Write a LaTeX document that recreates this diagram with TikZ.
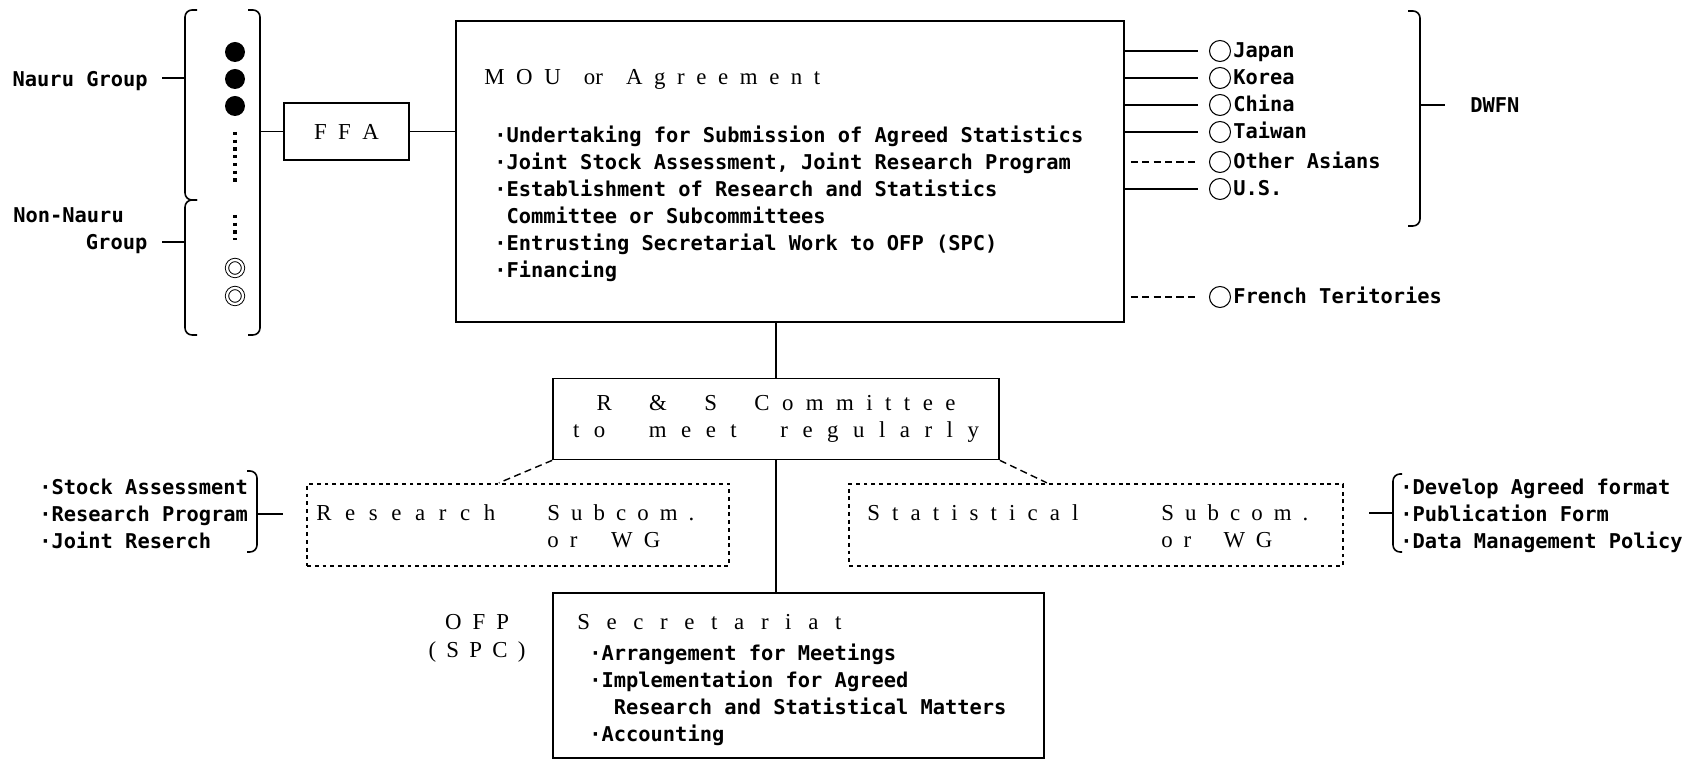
\documentclass[tikz,border=0pt]{standalone}
\usepackage{fontspec}
\setmainfont{Liberation Serif}
\newfontfamily\gothic{DejaVu Sans Mono}
\usetikzlibrary{calc}

% one pixel of the reference
\newdimen\pxu \pxu=0.02cm
% letter-spaced heading, stretched to a width given in pixels
\newcommand{\spreadto}[2]{{\spaceskip=0pt plus 1fil\relax\makebox[#1\pxu][s]{#2}}}
\newcommand{\gothicsz}{\fontsize{11.6}{15.4}\selectfont\gothic\bfseries}
\newcommand{\headsz}{\fontsize{13}{15.4}\selectfont\rmfamily}

\begin{document}
\begin{tikzpicture}[x=0.02cm, y=-0.02cm,
  box/.style={draw, line width=1pt, inner sep=0pt},
  sbox/.style={draw, line width=1.3pt, dash pattern=on 2.2pt off 2.2pt, inner sep=0pt},
  lbl/.style={font=\gothicsz, inner sep=0pt},
  head/.style={font=\headsz, inner sep=0pt},
  brk/.style={line width=0.9pt, rounded corners=4pt},
  link/.style={line width=0.8pt},
  dlink/.style={line width=0.8pt, dash pattern=on 4pt off 2.5pt},
  fdot/.style={circle, fill, inner sep=0pt, minimum size=0.4cm},
  ring/.style={circle, draw, double, line width=0.55pt, double distance=1.3pt,
               inner sep=0pt, minimum size=0.32cm},
  cdot/.style={circle, draw, line width=0.6pt, inner sep=0pt, minimum size=0.42cm},
  dotcol/.style={line width=1.8pt, dash pattern=on 1.8pt off 2.6pt}
]
\useasboundingbox (0,0) rectangle (1691,759);

% ----- member groups -----
\node[lbl, anchor=base east] (nauru) at (148,86.5) {Nauru Group};
\node[lbl, anchor=north west, text width=2.68cm, align=left] (nonnauru) at (13,207.5)
     {Non-Nauru\\\hspace*{\fill}Group};
\coordinate (nbrk) at (185,78);
\coordinate (nnbrk) at (185,242);
\draw[link] (nbrk) -- ([xshift=8pt]nauru.east |- nbrk);
\draw[link] (nnbrk) -- ([xshift=8pt]nonnauru.east |- nnbrk);
\draw[brk] (197,10) -- (185,10) -- (185,200) -- (197,200);
\draw[brk] (197,200) -- (185,200) -- (185,335) -- (197,335);
\draw[brk] (248,10) -- (260,10) -- (260,335) -- (248,335);
\foreach \y [count=\i] in {52,79,106} \node[fdot] (nd\i) at (235,\y) {};
\draw[dotcol] (235,132) -- (235,182);
\draw[dotcol] (235,215) -- (235,240);
\foreach \y [count=\i] in {268,296} \node[ring] (nn\i) at (235,\y) {};

% ----- FFA and MOU -----
\coordinate (rbrk) at (260,131.5);
\node[box, head, minimum width=2.5cm, minimum height=1.14cm] (ffa) at (346.5,131.5)
     {\spreadto{65}{F F A}};
\node[box, minimum width=13.36cm, minimum height=6.02cm] (mou) at (790,171.5) {};
\draw[link] (rbrk) -- (ffa.west);
\draw[link] (ffa.east) -- (ffa.east -| mou.west);
\node[head, anchor=base west] (moutitle) at (484,85)
     {\spreadto{336}{M O U\ \ or\ \ A g r e e m e n t}};
\node[lbl, anchor=north west, align=left] (moulist) at (494,125.5)
     {·Undertaking for Submission of Agreed Statistics\\
      ·Joint Stock Assessment, Joint Research Program\\
      ·Establishment of Research and Statistics\\
      \phantom{·}Committee or Subcommittees\\
      ·Entrusting Secretarial Work to OFP (SPC)\\
      ·Financing};

% ----- fishing nations -----
\foreach \y/\nm/\txt in {51/jp/Japan, 78/kr/Korea, 105/cn/China, 132/tw/Taiwan, 189/us/U.S.} {
  \node[cdot] (\nm) at (1220,\y) {};
  \node[lbl, anchor=base west] (\nm-t) at (1233,\y+6.5) {\txt};
  \draw[link, shorten >=6.5pt] (mou.east |- \nm) -- (\nm);
}
\foreach \y/\nm/\txt in {162/oa/Other Asians, 297/fr/French Teritories} {
  \node[cdot] (\nm) at (1220,\y) {};
  \node[lbl, anchor=base west] (\nm-t) at (1233,\y+6.5) {\txt};
  \draw[dlink, shorten <=3.4pt, shorten >=6.5pt] (mou.east |- \nm) -- (\nm);
}
\draw[brk] (1408,11) -- (1420,11) -- (1420,226) -- (1408,226);
\coordinate (dwbrk) at (1420,105);
\node[lbl, anchor=base west] (dwfn) at (1470,113) {DWFN};
\draw[link] (dwbrk) -- ([xshift=-14pt]dwfn.west |- dwbrk);

% ----- committee and subcommittees -----
\node[box, head, align=center, minimum width=8.92cm, minimum height=1.62cm] (rs) at (776,419)
     {\spreadto{359}{R\ \ \ \&\ \ \ S\ \ \ C o m m i t t e e}\\
      \spreadto{406}{t o\ \ \ m e e t\ \ \ r e g u l a r l y}};
\node[sbox, minimum width=8.44cm, minimum height=1.64cm] (res) at (518,525) {};
\node[head, anchor=north west, align=left] (restxt) at (316,504.5)
     {\spreadto{179}{R e s e a r c h}\hspace*{52\pxu}\spreadto{147}{S u b c o m .}\\
      \hspace*{231\pxu}\spreadto{113}{o r\ \ \ W G}};
\node[sbox, minimum width=9.88cm, minimum height=1.64cm] (stat) at (1096,525) {};
\node[head, anchor=north west, align=left] (stattxt) at (867,504.5)
     {\spreadto{211}{S t a t i s t i c a l}\hspace*{83\pxu}\spreadto{147}{S u b c o m .}\\
      \hspace*{294\pxu}\spreadto{111}{o r\ \ \ W G}};
\draw[dlink] (rs.south west) -- ($(res.north west)+(193,0)$);
\draw[dlink] (rs.south east) -- ($(stat.north west)+(199,0)$);

% ----- task lists -----
\node[lbl, anchor=north west, align=left] (reslist) at (39,478.5)
     {·Stock Assessment\\·Research Program\\·Joint Reserch};
\draw[brk] (247,471) -- (257,471) -- (257,552) -- (247,552);
\coordinate (rlbrk) at (257,514);
\draw[link] (rlbrk) -- ([xshift=-13pt]res.west |- rlbrk);
\node[lbl, anchor=north west, align=left] (statlist) at (1400,478.5)
     {·Develop Agreed format\\·Publication Form\\·Data Management Policy};
\draw[brk] (1402,474) -- (1393,474) -- (1393,552) -- (1402,552);
\coordinate (slbrk) at (1393,513);
\draw[link] (slbrk) -- ([xshift=14pt]stat.east |- slbrk);

% ----- secretariat -----
\node[box, minimum width=9.82cm, minimum height=3.3cm] (sec) at (798.5,675.5) {};
\node[head, anchor=base west] (sechead) at (577,629.5) {\spreadto{264}{S e c r e t a r i a t}};
\node[lbl, anchor=north west, align=left] (seclist) at (589,643.5)
     {·Arrangement for Meetings\\
      ·Implementation for Agreed\\
      \phantom{··}Research and Statistical Matters\\
      ·Accounting};
\node[head, anchor=north, align=center] (ofp) at (477,614.5)
     {\spreadto{64}{O F P}\\\spreadto{97}{( S P C )}};

% ----- main spine -----
\draw[link] (rs.north) -- (rs.north |- mou.south);
\draw[link] (rs.south) -- (rs.south |- sec.north);
\end{tikzpicture}
\end{document}
